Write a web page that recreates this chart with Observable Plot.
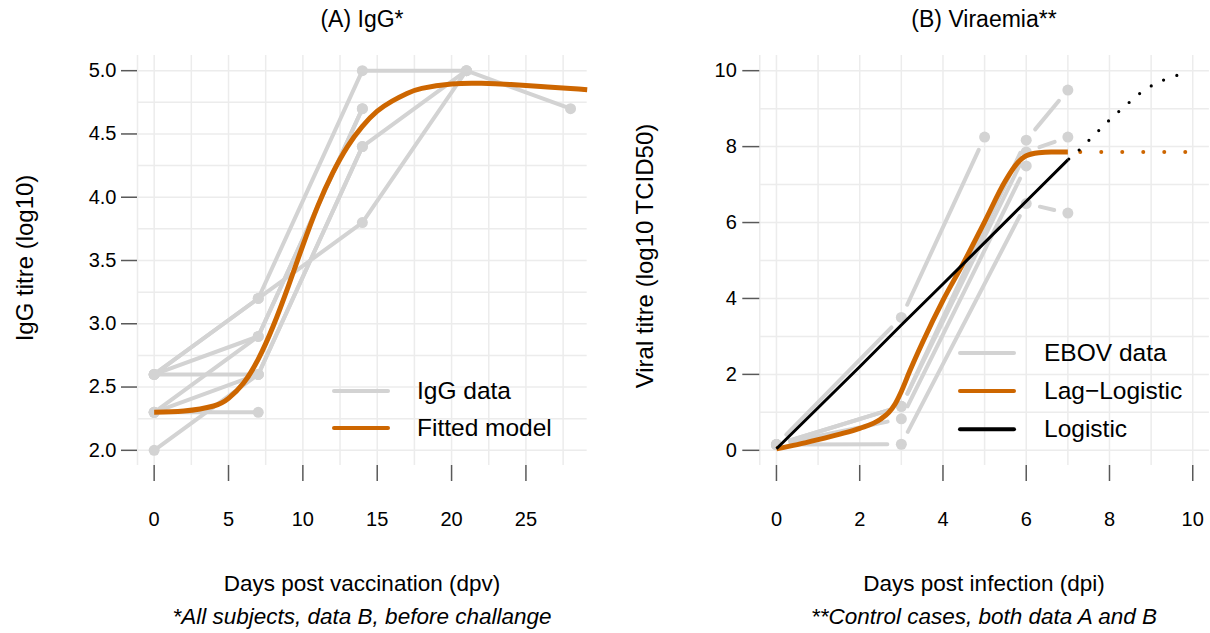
<!DOCTYPE html>
<html>
<head>
<meta charset="utf-8">
<script src="https://cdn.jsdelivr.net/npm/d3@7"></script>
<script src="https://cdn.jsdelivr.net/npm/@observablehq/plot@0.6"></script>
<style>
  html, body { margin: 0; padding: 0; background: #fff; }
  #root { position: relative; width: 1210px; height: 633px; overflow: hidden;
          font-family: "Liberation Sans", Arial, Helvetica, sans-serif; color: #000; }
  #root svg { position: absolute; top: 0; }
  .t { position: absolute; white-space: nowrap; transform: translate(-50%, -50%); line-height: 1; }
  .rot { transform: translate(-50%, -50%) rotate(-90deg); }
  .it { font-style: italic; }
  .leg { position: absolute; white-space: nowrap; line-height: 1; font-size: 24.5px; transform: translateY(-50%); }
  .legline { position: absolute; height: 4px; transform: translateY(-50%); border-radius: 2px; }
</style>
</head>
<body>
<div id="root"></div>
<script>
// ---------------- Data: panel A (IgG) ----------------
const igDays = [0, 7, 14, 21, 28];
const igSubjects = [
  [2.6, 3.2, 3.8, 5.0, 4.7],
  [2.6, 3.2, 5.0, 5.0, null],
  [2.6, 2.9, 4.7, null, null],
  [2.3, 2.9, 4.7, null, null],
  [2.3, 2.6, 4.4, 5.0, null],
  [2.0, 2.6, 4.4, null, null],
  [2.6, 2.6, null, null, null],
  [2.3, 2.3, null, null, null]
];
const igFitDays  = [0, 2, 4, 5, 6, 7, 8, 9, 10, 11, 12, 13, 14, 15, 16, 17, 18, 20, 22, 24, 26, 28, 29.12];
const igFitTitre = [2.30, 2.31, 2.35, 2.41, 2.53, 2.72, 2.98, 3.29, 3.62, 3.93, 4.19, 4.40, 4.56, 4.68, 4.76, 4.82, 4.86, 4.895, 4.90, 4.89, 4.875, 4.86, 4.85];
const igTicksX = [0, 5, 10, 15, 20, 25];
const igTicksY = [2.0, 2.5, 3.0, 3.5, 4.0, 4.5, 5.0];
const igGridX = [0, 2.5, 5, 7.5, 10, 12.5, 15, 17.5, 20, 22.5, 25, 27.5];
const igGridY = [2.0, 2.25, 2.5, 2.75, 3.0, 3.25, 3.5, 3.75, 4.0, 4.25, 4.5, 4.75, 5.0];

// ---------------- Data: panel B (Viraemia) ----------------
const virDays = [0, 3, 5, 6, 7];
const virSubjects = [
  [0.15, 3.5, 8.25, null, null],
  [0.15, 1.16, null, 8.17, 9.49],
  [0.15, 1.16, null, 7.86, 8.25],
  [0.15, 0.83, null, 7.49, null],
  [0.15, 0.16, null, 6.5, 6.25]
];
const lagDays  = [0, 0.5, 1, 1.5, 2, 2.5, 2.7, 2.85, 3.0, 3.2, 3.5, 4.0, 4.5, 5.0, 5.5, 5.8, 6.0, 6.3, 6.6, 7.0];
const lagTitre = [0.04, 0.15, 0.28, 0.42, 0.58, 0.82, 1.0, 1.22, 1.55, 2.08, 2.82, 3.95, 4.95, 6.02, 7.1, 7.58, 7.76, 7.84, 7.86, 7.86];
const lagExtDays  = [7, 9.85];
const lagExtTitre = [7.86, 7.86];
const logDays  = [0, 1, 2, 3, 4, 5, 6, 7];
const logTitre = [0.04, 1.12, 2.2, 3.3, 4.38, 5.47, 6.56, 7.65];
const logExtDays  = [7, 7.27, 7.5, 7.74, 7.98, 8.23, 8.48, 8.75, 9.04, 9.34, 9.66, 9.85];
const logExtTitre = [7.65, 7.91, 8.16, 8.42, 8.68, 8.93, 9.17, 9.42, 9.62, 9.77, 9.89, 9.93];
const virTicks = [0, 2, 4, 6, 8, 10];
const virGrid = [0, 1, 2, 3, 4, 5, 6, 7, 8, 9, 10];

// ---------------- Styles ----------------
const FONT = '"Liberation Sans", Arial, Helvetica, sans-serif';
const GREY = "#d3d3d3";
const GRID = "#ececec";
const TICK = "#595959";
const ORANGE = "#cd6600";

// ---------------- Build tables ----------------
const igLong = [];
igSubjects.forEach((s, i) => s.forEach((v, j) => { if (v != null) igLong.push({subject: i, day: igDays[j], titre: v}); }));
const igFit = igFitDays.map((d, i) => ({day: d, titre: igFitTitre[i]}));

const virLong = [];
virSubjects.forEach((s, i) => s.forEach((v, j) => { if (v != null) virLong.push({subject: i, day: virDays[j], titre: v}); }));
const zip = (xs, ys) => xs.map((d, i) => ({day: d, titre: ys[i]}));
const lag = zip(lagDays, lagTitre), lagExt = zip(lagExtDays, lagExtTitre);
const logi = zip(logDays, logTitre), logExt = zip(logExtDays, logExtTitre);

// ---------------- Panel A ----------------
const A = {w: 605, h: 633, ml: 137, mr: 18.3, mt: 55, mb: 168, xd: [-1.12, 29.12], yd: [1.88, 5.12]};
const svgA = Plot.plot({
  width: A.w, height: A.h,
  marginLeft: A.ml, marginRight: A.mr, marginTop: A.mt, marginBottom: A.mb,
  style: {fontFamily: FONT, fontSize: "20px", background: "transparent", overflow: "visible"},
  x: {domain: A.xd, axis: null},
  y: {domain: A.yd, axis: null},
  marks: [
    Plot.ruleX(igGridX, {stroke: GRID, strokeWidth: 1.5}),
    Plot.ruleY(igGridY, {stroke: GRID, strokeWidth: 1.5}),
    Plot.ruleX([A.xd[0]], {stroke: GRID, strokeWidth: 1.5}),
    Plot.axisX({ticks: igTicksX, anchor: "bottom", tickSize: 16, tickPadding: 30, stroke: TICK, strokeWidth: 1.5, fill: "#000", fontSize: 20, label: null}),
    Plot.axisY({ticks: igTicksY, anchor: "left", tickSize: 16, tickPadding: 5, tickFormat: d3.format(".1f"), stroke: TICK, strokeWidth: 1.5, fill: "#000", fontSize: 20, label: null}),
    Plot.line(igLong, {x: "day", y: "titre", z: "subject", stroke: GREY, strokeWidth: 4, strokeLinecap: "round", strokeLinejoin: "round"}),
    Plot.dot(igLong, {x: "day", y: "titre", r: 5.5, fill: GREY}),
    Plot.line(igFit, {x: "day", y: "titre", stroke: ORANGE, strokeWidth: 5, curve: "natural", strokeLinecap: "butt"})
  ]
});
svgA.style.left = "0px";

// ---------------- Panel B ----------------
const B = {w: 605, h: 633, ml: 154.3, mr: 1.1, mt: 55, mb: 168, xd: [-0.4, 10.4], yd: [-0.4, 10.4]};
const pxX = (B.w - B.ml - B.mr) / (B.xd[1] - B.xd[0]);
const pxY = (B.h - B.mt - B.mb) / (B.yd[1] - B.yd[0]);
// type="b": segments shortened around points (gap in pixels)
const GAP = 14;
const virSegs = [];
virSubjects.forEach((s) => {
  const pts = s.map((v, j) => v == null ? null : [virDays[j], v]).filter(p => p);
  for (let k = 0; k < pts.length - 1; k++) {
    const [x1, y1] = pts[k], [x2, y2] = pts[k + 1];
    const L = Math.hypot((x2 - x1) * pxX, (y2 - y1) * pxY);
    if (L <= 2 * GAP) continue;
    const t = GAP / L;
    virSegs.push({x1: x1 + (x2 - x1) * t, y1: y1 + (y2 - y1) * t, x2: x2 - (x2 - x1) * t, y2: y2 - (y2 - y1) * t});
  }
});
const svgB = Plot.plot({
  width: B.w, height: B.h,
  marginLeft: B.ml, marginRight: B.mr, marginTop: B.mt, marginBottom: B.mb,
  style: {fontFamily: FONT, fontSize: "20px", background: "transparent", overflow: "visible"},
  x: {domain: B.xd, axis: null},
  y: {domain: B.yd, axis: null},
  marks: [
    Plot.ruleX(virGrid, {stroke: GRID, strokeWidth: 1.5}),
    Plot.ruleY(virGrid, {stroke: GRID, strokeWidth: 1.5}),
    Plot.ruleX([B.xd[0]], {stroke: GRID, strokeWidth: 1.5}),
    Plot.axisX({ticks: virTicks, anchor: "bottom", tickSize: 16, tickPadding: 30, stroke: TICK, strokeWidth: 1.5, fill: "#000", fontSize: 20, label: null}),
    Plot.axisY({ticks: virTicks, anchor: "left", tickSize: 17, tickPadding: 6, stroke: TICK, strokeWidth: 1.5, fill: "#000", fontSize: 20, label: null}),
    Plot.link(virSegs, {x1: "x1", y1: "y1", x2: "x2", y2: "y2", stroke: GREY, strokeWidth: 4, strokeLinecap: "round"}),
    Plot.dot(virLong, {x: "day", y: "titre", r: 5.5, fill: GREY}),
    Plot.line(lag, {x: "day", y: "titre", stroke: ORANGE, strokeWidth: 5, curve: "monotone-x", strokeLinecap: "butt"}),
    Plot.line(lagExt, {x: "day", y: "titre", stroke: ORANGE, strokeWidth: 4, strokeDasharray: "0 21", strokeDashoffset: -12.4, strokeLinecap: "round"}),
    Plot.line(logi, {x: "day", y: "titre", stroke: "#000", strokeWidth: 3, strokeLinecap: "butt"}),
    Plot.line(logExt, {x: "day", y: "titre", stroke: "#000", strokeWidth: 3.2, curve: "natural", strokeDasharray: "0 13.8", strokeDashoffset: -1.2, strokeLinecap: "round"})
  ]
});
svgB.style.left = "605px";

const root = document.getElementById("root");
root.appendChild(svgA);
root.appendChild(svgB);

// ---------------- Text ----------------
function txt(s, x, y, size, cls) {
  const d = document.createElement("div");
  d.className = "t " + (cls || "");
  d.textContent = s;
  d.style.left = x + "px"; d.style.top = y + "px"; d.style.fontSize = size + "px";
  root.appendChild(d);
}
txt("(A) IgG*", 362, 19, 23);
txt("(B) Viraemia**", 984, 19, 23);
txt("IgG titre (log10)", 25, 258, 24, "rot");
txt("Viral titre (log10 TCID50)", 645, 256, 24, "rot");
txt("Days post vaccination (dpv)", 362, 584, 22.5);
txt("Days post infection (dpi)", 984, 584, 22.5);
txt("*All subjects, data B, before challange", 362, 617, 22.5, "it");
txt("**Control cases, both data A and B", 984, 617, 22.5, "it");

// ---------------- Legends ----------------
function legend(items, x0, x1, xt) {
  items.forEach(([label, color, y, w]) => {
    const l = document.createElement("div");
    l.className = "legline";
    l.style.left = x0 + "px"; l.style.width = (x1 - x0) + "px"; l.style.top = y + "px";
    l.style.background = color; l.style.height = w + "px";
    root.appendChild(l);
    const t = document.createElement("div");
    t.className = "leg"; t.textContent = label;
    t.style.left = xt + "px"; t.style.top = y + "px";
    root.appendChild(t);
  });
}
legend([["IgG data", GREY, 391, 4], ["Fitted model", ORANGE, 428, 4]], 332, 390, 417);
legend([["EBOV data", GREY, 353, 4], ["Lag\u2212Logistic", ORANGE, 391, 4], ["Logistic", "#000", 429, 3.5]], 958, 1016, 1044);
</script>
</body>
</html>
